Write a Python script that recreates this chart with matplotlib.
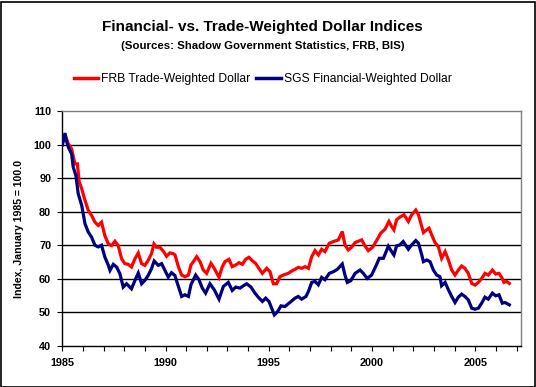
import matplotlib
matplotlib.use("Agg")
import matplotlib.pyplot as plt
from matplotlib.patches import Rectangle
from matplotlib.ticker import MultipleLocator

plt.rcParams['font.family'] = ['Liberation Sans', 'DejaVu Sans']

# ---- data ----
frb_years = [1985.00, 1985.13, 1985.29, 1985.45, 1985.61, 1985.73, 1985.82, 1985.94,
             1986.10, 1986.26, 1986.42, 1986.58, 1986.74, 1986.90, 1987.06, 1987.23,
             1987.39, 1987.55, 1987.71, 1987.87, 1988.03, 1988.19, 1988.35, 1988.52,
             1988.68, 1988.84, 1989.00, 1989.16, 1989.32, 1989.44, 1989.56, 1989.73,
             1989.92, 1990.05, 1990.21, 1990.37, 1990.46, 1990.62, 1990.78, 1990.94,
             1991.11, 1991.23, 1991.35, 1991.51, 1991.67, 1991.83, 1991.99, 1992.20,
             1992.36, 1992.59, 1992.75, 1992.88, 1993.07, 1993.23, 1993.40, 1993.56,
             1993.72, 1993.88, 1994.04, 1994.20, 1994.36, 1994.52, 1994.69, 1994.90,
             1995.06, 1995.22, 1995.38, 1995.54, 1995.70, 1995.94, 1996.19, 1996.27,
             1996.43, 1996.59, 1996.76, 1996.92, 1997.08, 1997.24, 1997.40, 1997.56,
             1997.72, 1997.93, 1998.13, 1998.37, 1998.56, 1998.69, 1998.85, 1999.01,
             1999.18, 1999.50, 1999.66, 1999.82, 2000.03, 2000.26, 2000.42, 2000.63,
             2000.82, 2000.95, 2001.06, 2001.19, 2001.35, 2001.55, 2001.76, 2001.92,
             2002.12, 2002.25, 2002.41, 2002.49, 2002.65, 2002.76, 2002.89, 2003.05,
             2003.21, 2003.37, 2003.54, 2003.70, 2003.86, 2004.02, 2004.18, 2004.34,
             2004.50, 2004.66, 2004.83, 2004.99, 2005.15, 2005.31, 2005.47, 2005.63,
             2005.83, 2005.99, 2006.15, 2006.28, 2006.39, 2006.52, 2006.65]
frb_values = [100.0, 103.0, 100.3, 98.8, 94.3, 94.3, 88.9, 86.9,
              83.4, 80.4, 78.9, 76.9, 75.9, 76.9, 72.9, 70.4,
              69.9, 71.2, 69.9, 66.0, 64.5, 64.3, 63.5, 66.0,
              67.7, 64.5, 64.0, 65.5, 67.5, 70.4, 69.4, 69.4,
              68.0, 66.7, 67.7, 67.5, 67.1, 63.6, 61.1, 60.6,
              61.1, 64.1, 65.1, 66.6, 65.1, 62.6, 61.6, 64.6,
              63.1, 60.4, 63.6, 65.1, 65.8, 63.6, 64.1, 64.8,
              64.3, 65.8, 66.4, 65.4, 64.6, 63.1, 61.6, 63.1,
              62.1, 58.5, 58.5, 60.6, 61.1, 61.6, 62.6, 62.8,
              63.4, 63.1, 63.6, 63.1, 66.6, 68.4, 67.1, 68.8,
              68.1, 70.6, 71.1, 71.6, 74.1, 70.1, 68.6, 69.4,
              70.8, 71.6, 69.8, 68.4, 69.4, 71.8, 73.6, 74.8,
              77.1, 75.6, 74.6, 77.6, 78.4, 79.1, 77.1, 79.1,
              80.5, 79.1, 75.6, 73.8, 74.6, 75.1, 73.1, 70.8,
              69.6, 66.1, 68.1, 65.6, 62.6, 61.1, 62.6, 63.8,
              63.1, 61.6, 58.6, 58.1, 58.9, 60.1, 61.6, 61.1,
              62.6, 61.4, 61.6, 60.4, 58.9, 59.2, 58.6]

sgs_years = [1985.00, 1985.13, 1985.21, 1985.29, 1985.45, 1985.53, 1985.66, 1985.77,
             1985.94, 1986.10, 1986.26, 1986.42, 1986.58, 1986.74, 1986.90, 1987.06,
             1987.23, 1987.31, 1987.47, 1987.63, 1987.79, 1987.95, 1988.11, 1988.35,
             1988.52, 1988.68, 1988.84, 1989.00, 1989.16, 1989.32, 1989.45, 1989.65,
             1989.81, 1989.97, 1990.13, 1990.29, 1990.45, 1990.62, 1990.78, 1990.94,
             1991.11, 1991.23, 1991.35, 1991.46, 1991.62, 1991.78, 1991.94, 1992.15,
             1992.36, 1992.59, 1992.80, 1993.04, 1993.23, 1993.40, 1993.61, 1993.77,
             1993.93, 1994.14, 1994.33, 1994.49, 1994.69, 1994.85, 1995.01, 1995.14,
             1995.27, 1995.43, 1995.59, 1995.78, 1996.02, 1996.27, 1996.43, 1996.59,
             1996.80, 1996.92, 1997.08, 1997.24, 1997.40, 1997.56, 1997.72, 1997.93,
             1998.13, 1998.32, 1998.56, 1998.69, 1998.80, 1998.97, 1999.18, 1999.42,
             1999.58, 1999.77, 1999.98, 2000.19, 2000.35, 2000.55, 2000.79, 2000.95,
             2001.06, 2001.19, 2001.35, 2001.51, 2001.76, 2001.92, 2002.12, 2002.25,
             2002.41, 2002.49, 2002.65, 2002.81, 2002.97, 2003.13, 2003.29, 2003.37,
             2003.54, 2003.70, 2003.86, 2004.02, 2004.18, 2004.34, 2004.50, 2004.66,
             2004.83, 2004.99, 2005.15, 2005.31, 2005.47, 2005.63, 2005.83, 2005.99,
             2006.15, 2006.31, 2006.44, 2006.65]
sgs_values = [100.0, 103.5, 101.0, 99.3, 97.3, 93.3, 90.8, 85.4,
              81.9, 76.4, 73.9, 72.4, 70.0, 69.5, 70.0, 66.5,
              64.0, 62.5, 64.3, 63.5, 61.5, 57.5, 58.5, 57.0,
              59.5, 61.7, 58.5, 59.5, 61.0, 63.0, 65.3, 64.0,
              64.5, 62.5, 60.5, 61.8, 61.0, 57.7, 54.7, 55.2,
              54.7, 58.2, 59.7, 61.1, 59.7, 57.2, 55.7, 58.5,
              56.7, 53.9, 57.7, 58.9, 56.5, 57.5, 57.2, 57.9,
              58.5, 57.5, 55.7, 54.5, 53.2, 54.2, 53.2, 51.2,
              49.2, 50.2, 51.9, 51.7, 52.9, 54.2, 54.7, 53.9,
              54.7, 56.2, 58.9, 59.2, 58.2, 60.4, 59.7, 61.6,
              62.1, 62.8, 64.4, 61.1, 58.9, 59.4, 61.6, 62.6,
              61.6, 60.1, 61.1, 63.8, 66.1, 66.1, 69.7, 68.1,
              67.1, 69.8, 70.1, 71.1, 68.8, 70.1, 71.4, 70.6,
              67.1, 65.1, 65.6, 65.1, 62.6, 61.1, 60.6, 57.9,
              58.9, 56.7, 54.7, 52.9, 54.5, 55.4, 54.7, 53.7,
              51.2, 50.9, 51.2, 52.7, 54.5, 53.9, 55.7, 54.9,
              55.2, 52.7, 52.9, 52.2]

series_names = ["FRB Trade-Weighted Dollar", "SGS Financial-Weighted Dollar"]
year_labels = [1985, 1990, 1995, 2000, 2005]
y_ticks = [40, 50, 60, 70, 80, 90, 100, 110]

# ---- figure ----
W, H = 536, 387
fig = plt.figure(figsize=(W / 100, H / 100), dpi=100)
fig.patch.set_facecolor("white")
fig.patches.append(Rectangle((0.5 / W, 0.5 / H), 1 - 2.0 / W, 1 - 2.0 / H,
                             transform=fig.transFigure, fill=False,
                             edgecolor="black", linewidth=1.2))

L, R, T, B = 62.3, 521.3, 111.3, 345.7
ax = fig.add_axes([L / W, 1 - B / H, (R - L) / W, (B - T) / H])

ax.set_xlim(1985, 2007.23)
ax.set_ylim(y_ticks[0], y_ticks[-1])

for v in y_ticks[1:-1]:
    ax.axhline(v, color="black", linewidth=1.0, zorder=1)

ax.plot(frb_years, frb_values, color="#ff0000", linewidth=2.3,
        label=series_names[0], zorder=3, solid_joinstyle="miter")
ax.plot(sgs_years, sgs_values, color="#000080", linewidth=2.3,
        label=series_names[1], zorder=4, solid_joinstyle="miter")

for s in ["top", "right"]:
    ax.spines[s].set_color("#808080")
    ax.spines[s].set_linewidth(1.0)
for s in ["left", "bottom"]:
    ax.spines[s].set_color("black")
    ax.spines[s].set_linewidth(1.0)

ax.set_yticks(y_ticks)
ax.set_yticklabels([str(v) for v in y_ticks])
ax.set_xticks(year_labels)
ax.set_xticklabels([str(v) for v in year_labels])
ax.xaxis.set_minor_locator(MultipleLocator(1))
ax.tick_params(axis="both", which="both", direction="out", length=3.5,
               width=0.8, color="black")
ax.tick_params(axis="x", which="major", pad=5)
ax.tick_params(axis="y", which="major", pad=4.5)
for lab in ax.get_xticklabels() + ax.get_yticklabels():
    lab.set_fontweight("bold")
    lab.set_fontsize(7.8)

ax.set_ylabel("Index, January 1985 = 100.0", fontsize=7.6, fontweight="bold")
ax.yaxis.set_label_coords(-(62.3 - 24) / (R - L), 0.5)

fig.text(0.49, 1 - 27 / H, "Financial- vs. Trade-Weighted Dollar Indices",
         ha="center", va="center", fontsize=11.0, fontweight="bold")
fig.text(0.49, 1 - 46 / H, "(Sources: Shadow Government Statistics, FRB, BIS)",
         ha="center", va="center", fontsize=8.2, fontweight="bold")

leg = fig.legend(loc="center", bbox_to_anchor=(0.49, 1 - 79 / H), ncol=2,
                 frameon=False, fontsize=8.7, handlelength=2.0,
                 handletextpad=0.25, columnspacing=0.5, borderaxespad=0)
for line in leg.get_lines():
    line.set_linewidth(2.5)

fig.savefig("out.png", dpi=100, facecolor="white")
